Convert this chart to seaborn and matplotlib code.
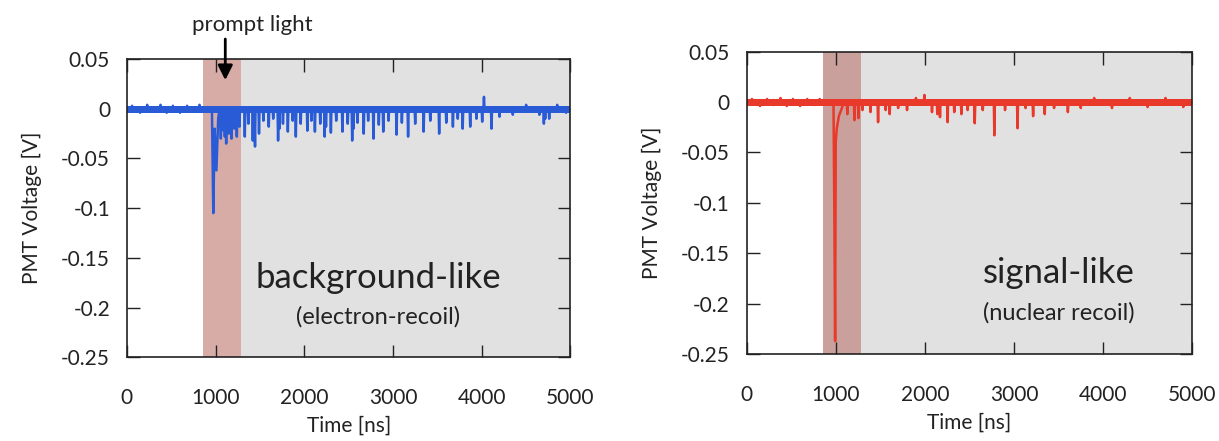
import numpy as np
import pandas as pd
import seaborn as sns
import matplotlib.pyplot as plt

# spike events: (time ns, voltage V)
bg_spike_t = [60, 150, 230, 300, 380, 450, 520, 600, 680, 760, 820,
              1060, 1075, 1090, 1105, 1120, 1150, 1165, 1180, 1210, 1225, 1240, 1270,
              1330, 1370, 1420, 1445, 1490, 1540, 1600, 1650, 1705, 1720, 1760,
              1815, 1870, 1905, 1960, 2035, 2080, 2120, 2180, 2230, 2245, 2300,
              2360, 2430, 2490, 2540, 2555, 2600, 2670, 2720, 2780, 2840, 2890,
              2950, 3040, 3100, 3170, 3250, 3345, 3420, 3520, 3600, 3675,
              3730, 3785, 3870, 3940, 4005, 4025, 4110, 4200, 4350, 4500,
              4650, 4700, 4715, 4760, 4850, 4950]
bg_spike_v = [0.003, -0.004, 0.004, -0.003, 0.004, -0.004, 0.003, -0.004, 0.003, -0.003, 0.004,
              -0.030, -0.018, -0.022, -0.028, -0.035, -0.025, -0.015, -0.030, -0.020, -0.012, -0.028, -0.018,
              -0.028, -0.015, -0.032, -0.038, -0.025, -0.012, -0.018, -0.010, -0.032, -0.020, -0.015,
              -0.023, -0.012, -0.028, -0.015, -0.022, -0.012, -0.023, -0.015, -0.028, -0.018, -0.024,
              -0.012, -0.023, -0.015, -0.032, -0.020, -0.014, -0.025, -0.012, -0.030, -0.016, -0.023,
              -0.012, -0.026, -0.014, -0.028, -0.015, -0.023, -0.012, -0.025, -0.014, -0.018,
              -0.010, -0.020, -0.018, -0.010, -0.013, 0.012, -0.020, -0.008, -0.006, 0.004,
              -0.006, -0.015, -0.010, -0.010, 0.004, -0.004]
# prompt pulse vertices
bg_pulse_t = [930, 960, 975, 990, 1010, 1030, 1045]
bg_pulse_v = [0.0, -0.004, -0.105, -0.020, -0.062, -0.010, 0.0]

sig_spike_t = [60, 150, 230, 300, 380, 450, 520, 600, 680, 760, 820,
               1130, 1210, 1255, 1300, 1390, 1475, 1560, 1605, 1700, 1800,
               1900, 1995, 2080, 2140, 2170, 2255, 2330, 2410, 2480, 2560,
               2650, 2780, 2900, 3040, 3130, 3215, 3345, 3450, 3605, 3750,
               3900, 4100, 4300, 4500, 4700, 4900]
sig_spike_v = [0.003, -0.004, 0.003, -0.003, 0.004, -0.004, 0.003, -0.004, 0.003, -0.003, 0.003,
               -0.012, -0.018, -0.016, -0.008, -0.010, -0.020, -0.008, -0.012, -0.006, -0.008,
               0.004, 0.007, -0.010, -0.012, -0.015, -0.020, -0.010, -0.012, -0.008, -0.021,
               -0.008, -0.033, -0.008, -0.026, -0.006, -0.014, -0.012, -0.006, -0.010, -0.006,
               0.004, -0.006, 0.004, -0.005, 0.004, -0.005]
sig_pulse_t = [950, 975, 985, 993, 1000, 1012, 1035, 1065, 1090]
sig_pulse_v = [0.0, -0.004, -0.120, -0.237, -0.040, -0.026, -0.014, -0.007, 0.0]

prompt_window = (855, 1285)
y_ticks = [0.05, 0, -0.05, -0.1, -0.15, -0.2, -0.25]
y_tick_labels = ["0.05", "0", "-0.05", "-0.1", "-0.15", "-0.2", "-0.25"]
x_ticks = [0, 1000, 2000, 3000, 4000, 5000]


def build_trace(spike_t, spike_v, pulse_t, pulse_v):
    t = [0.0, 5000.0]
    v = [0.0, 0.0]
    for st, sv in zip(spike_t, spike_v):
        t += [st - 6, st, st + 6]
        v += [0.0, sv, 0.0]
    t += pulse_t
    v += pulse_v
    return pd.DataFrame({"time": t, "volt": v}).sort_values("time")


sns.set_style("ticks")
plt.rcParams['font.family'] = ['Lato', 'DejaVu Sans']
plt.rcParams['text.color'] = '#222222'
plt.rcParams['axes.labelcolor'] = '#222222'
plt.rcParams['xtick.color'] = '#222222'
plt.rcParams['ytick.color'] = '#222222'

fig = plt.figure(figsize=(12.19, 4.41), dpi=100)
ax1 = fig.add_axes([0.104, 0.190, 0.364, 0.676])
ax2 = fig.add_axes([0.6125, 0.197, 0.3655, 0.686])

panels = [
    (ax1, build_trace(bg_spike_t, bg_spike_v, bg_pulse_t, bg_pulse_v), "#2a5bd7", "#d8aca6",
     "background-like", "(electron-recoil)", 2830),
    (ax2, build_trace(sig_spike_t, sig_spike_v, sig_pulse_t, sig_pulse_v), "#e8392b", "#caa09c",
     "signal-like", "(nuclear recoil)", 3500),
]

for ax, df, col, pink, title, sub, tx in panels:
    ax.axvspan(prompt_window[0], prompt_window[1], color=pink, lw=0, zorder=0)
    ax.axvspan(prompt_window[1], 5000, color="#e1e1e1", lw=0, zorder=0)
    ax.fill_between([0, 5000], -0.004, 0.003, color=col, lw=0, zorder=1)
    sns.lineplot(data=df, x="time", y="volt", ax=ax, color=col, lw=1.8,
                 estimator=None, sort=False, zorder=2)
    ax.set_xlim(0, 5000)
    ax.set_ylim(-0.25, 0.05)
    ax.set_xticks(x_ticks)
    ax.set_yticks(y_ticks)
    ax.set_yticklabels(y_tick_labels)
    ax.tick_params(direction="in", length=9, width=1, top=True, right=True,
                   labelsize=15)
    ax.tick_params(axis="x", pad=22)
    ax.tick_params(axis="y", pad=12)
    for s in ax.spines.values():
        s.set_linewidth(1.2)
        s.set_color("#222222")
    ax.set_xlabel("Time [ns]", fontsize=15, labelpad=6)
    ax.set_ylabel("PMT Voltage [V]", fontsize=15, labelpad=14)
    ax.text(tx, -0.170, title, ha="center", va="center", fontsize=25)
    ax.text(tx, -0.209, sub, ha="center", va="center", fontsize=17)

ax1.text(1416, 0.084, "prompt light", ha="center", va="center", fontsize=16)
ax1.annotate("", xy=(1110, 0.026), xytext=(1110, 0.073),
             arrowprops=dict(arrowstyle="-|>", lw=2, color="black", mutation_scale=22),
             annotation_clip=False)

fig.savefig("out.png", dpi=100)
